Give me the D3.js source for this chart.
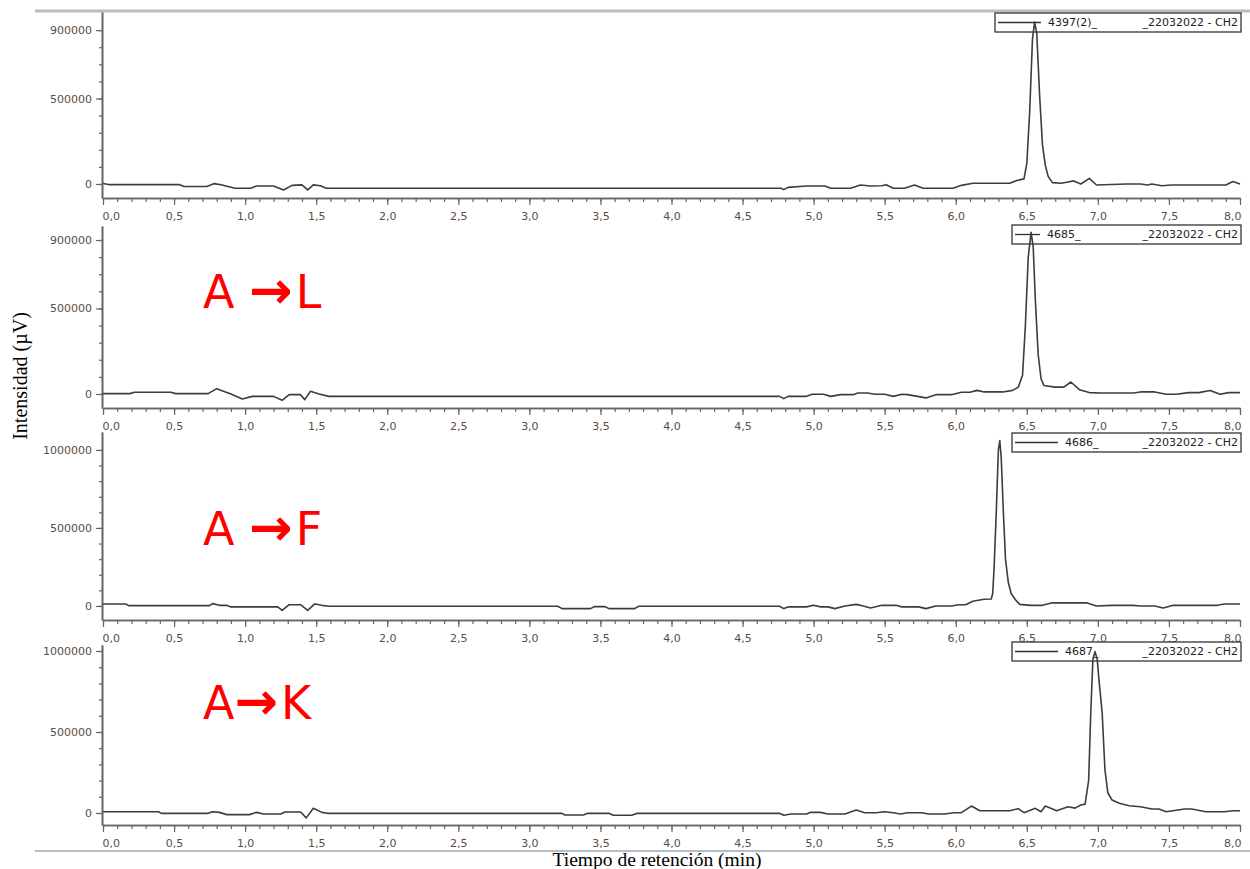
<!DOCTYPE html>
<html>
<head>
<meta charset="utf-8">
<script src="https://cdn.jsdelivr.net/npm/d3@7"></script>
<style>
body { margin: 0; background: #fff; }
svg { display: block; }
</style>
</head>
<body>
<div id="chart-area"></div>
<script>
// sample names / reaction labels
const sampleNames = ['4397(2)_', '4685_', '4686_', '4687_'];
const runName = '_22032022 - CH2';
const reactionLabels = ['', 'A \u2192L', 'A \u2192F', 'A\u2192K'];

// axis ticks
const xTickValues = [0, 0.5, 1, 1.5, 2, 2.5, 3, 3.5, 4, 4.5, 5, 5.5, 6, 6.5, 7, 7.5, 8];
const xTickLabels = ['0,0', '0,5', '1,0', '1,5', '2,0', '2,5', '3,0', '3,5', '4,0', '4,5', '5,0', '5,5', '6,0', '6,5', '7,0', '7,5', '8,0'];
const yTickValues = [[0, 500000, 900000], [0, 500000, 900000], [0, 500000, 1000000], [0, 500000, 1000000]];
const yMin = [-82000, -82000, -90000, -74000];
const yMax = [1006000, 982000, 1115000, 1037000];

// chromatograms (min, µV)
const timeA = [0, 0.05, 0.54, 0.57, 0.73, 0.78, 0.83, 0.88, 0.93, 1.04, 1.08, 1.2, 1.27, 1.33, 1.4, 1.44, 1.48, 1.53, 1.57,
  4.77, 4.79, 4.82, 4.95, 5.08, 5.12, 5.26, 5.33, 5.4, 5.48, 5.51, 5.56, 5.64, 5.71, 5.77, 5.98, 6.04, 6.12, 6.38, 6.43, 6.48,
  6.5, 6.52, 6.54, 6.555, 6.57, 6.59, 6.61, 6.63, 6.65, 6.68, 6.74, 6.79, 6.83, 6.88, 6.94, 6.99, 7.2, 7.3, 7.35, 7.38, 7.45,
  7.52, 7.9, 7.95, 8.0];
const signalA = [3000, -4000, -4000, -15000, -15000, 2000, -5000, -15000, -25000, -25000, -12000, -12000, -35000, -8000, -5000, -35000, -5000, -10000, -25000,
  -25000, -33000, -20000, -12000, -12000, -25000, -25000, -6000, -12000, -10000, -4000, -25000, -25000, -6000, -25000, -25000, -8000, 4000, 4000, 20000, 30000,
  120000, 420000, 850000, 947000, 880000, 520000, 230000, 110000, 45000, 8000, 4000, 12000, 18000, 0, 33000, -6000, 0, 0, -6000, 0, -10000,
  -6000, -6000, 14000, 0];

const timeB = [0, 0.19, 0.22, 0.48, 0.51, 0.74, 0.8, 0.9, 0.98, 1.05, 1.2, 1.26, 1.31, 1.39, 1.42, 1.46, 1.52, 1.59,
  4.76, 4.79, 4.82, 4.95, 4.99, 5.07, 5.12, 5.19, 5.28, 5.31, 5.38, 5.43, 5.5, 5.56, 5.62, 5.66, 5.79, 5.86, 5.97, 6.04, 6.1,
  6.15, 6.2, 6.33, 6.4, 6.44, 6.47, 6.49, 6.51, 6.53, 6.545, 6.56, 6.58, 6.6, 6.62, 6.7, 6.76, 6.81, 6.87, 6.94, 7.02, 7.25,
  7.3, 7.4, 7.48, 7.55, 7.64, 7.71, 7.79, 7.86, 7.92, 8.0];
const signalB = [2000, 2000, 10000, 10000, 2000, 2000, 31000, 0, -29000, -14000, -14000, -37000, -4000, -4000, -33000, 16000, 0, -14000,
  -14000, -27000, -14000, -14000, -2000, -2000, -14000, -4000, -4000, 6000, 6000, -2000, -2000, -14000, -2000, -4000, -23000, -4000, -4000, 10000, 10000,
  21000, 12000, 12000, 21000, 40000, 110000, 400000, 800000, 945000, 860000, 550000, 230000, 90000, 50000, 40000, 40000, 70000, 25000, 8000, 6000, 6000,
  12000, 12000, -2000, -2000, 8000, 8000, 20000, -2000, 8000, 8000];

const timeC = [0, 0.16, 0.18, 0.75, 0.77, 0.82, 0.87, 0.9, 1.23, 1.26, 1.31, 1.39, 1.44, 1.49, 1.54, 1.59,
  3.2, 3.23, 3.43, 3.46, 3.53, 3.56, 3.74, 3.77, 4.76, 4.79, 4.82, 4.95, 5.0, 5.05, 5.1, 5.15, 5.22, 5.3, 5.35, 5.4,
  5.48, 5.58, 5.62, 5.74, 5.79, 5.86, 5.97, 6.02, 6.07, 6.12, 6.2, 6.25, 6.26, 6.27, 6.285, 6.3, 6.31, 6.32, 6.335, 6.35,
  6.37, 6.39, 6.42, 6.45, 6.53, 6.61, 6.68, 6.92, 6.99, 7.1, 7.25, 7.3, 7.4, 7.46, 7.53, 7.84, 7.89, 8.0];
const signalC = [13000, 13000, 2000, 2000, 15000, 4000, 4000, -6000, -6000, -28000, 8000, 8000, -28000, 13000, 4000, -2000,
  -2000, -17000, -17000, -4000, -4000, -17000, -17000, -2000, -2000, -17000, -6000, -6000, 4000, -6000, -6000, -17000, 0, 10000, 0, -13000,
  4000, 4000, -6000, -6000, -17000, 0, 0, 8000, 8000, 30000, 43000, 45000, 80000, 250000, 600000, 1000000, 1060000, 950000, 600000, 300000,
  150000, 80000, 40000, 10000, 4000, 4000, 20000, 20000, 0, 4000, 4000, 0, 0, -13000, 4000, 4000, 13000, 13000];

const timeD = [0, 0.39, 0.41, 0.74, 0.77, 0.82, 0.87, 1.03, 1.08, 1.13, 1.25, 1.28, 1.39, 1.43, 1.48, 1.54, 1.58,
  3.23, 3.25, 3.38, 3.41, 3.56, 3.59, 3.72, 3.76, 4.76, 4.79, 4.84, 4.95, 4.98, 5.05, 5.1, 5.22, 5.3, 5.36, 5.44, 5.5,
  5.56, 5.61, 5.66, 5.76, 5.81, 5.92, 5.99, 6.04, 6.11, 6.17, 6.38, 6.44, 6.48, 6.56, 6.6, 6.63, 6.71, 6.79, 6.84, 6.88,
  6.91, 6.935, 6.95, 6.965, 6.98, 6.995, 7.01, 7.03, 7.05, 7.07, 7.1, 7.15, 7.22, 7.3, 7.38, 7.43, 7.48, 7.61, 7.66, 7.76,
  7.89, 7.95, 8.0];
const signalD = [8000, 8000, -2000, -2000, 8000, 4000, -10000, -10000, 4000, -6000, -6000, 6000, 6000, -30000, 29000, 4000, -2000,
  -2000, -12000, -12000, -2000, -2000, -14000, -14000, -2000, -2000, -14000, -6000, -6000, 4000, 4000, -6000, -6000, 18000, 2000, 2000, 8000,
  2000, -6000, 2000, 2000, -6000, -6000, 2000, 2000, 43000, 14000, 14000, 27000, 2000, 29000, 8000, 43000, 14000, 39000, 30000, 49000,
  55000, 200000, 620000, 950000, 996000, 950000, 800000, 620000, 265000, 125000, 80000, 60000, 45000, 39000, 25000, 25000, 8000, 25000, 25000, 8000,
  8000, 14000, 14000];

const traces = [[timeA, signalA], [timeB, signalB], [timeC, signalC], [timeD, signalD]];

// layout
const width = 1250, height = 869;
const plotLeft = 103, plotRight = 1240;
const panelTop = [12, 226, 432, 645];
const panelBottom = [198, 408, 620, 825];
const legendLeft = [995, 1012, 1012, 1012];
const legendTop = [13, 225, 433, 642];
const legendTextX = [1048, 1047, 1065, 1065];
const labelBaseline = [0, 308, 545, 719];

const axisColor = '#666';
const tickTextColor = '#5a4d45';

const svg = d3.select('#chart-area').append('svg')
  .attr('width', width)
  .attr('height', height);

// window frame lines
svg.append('line')
  .attr('x1', 35).attr('x2', 1250).attr('y1', 11).attr('y2', 11)
  .attr('stroke', '#b5bdc6').attr('stroke-width', 3);
svg.append('line')
  .attr('x1', 35).attr('x2', 1250).attr('y1', 851).attr('y2', 851)
  .attr('stroke', '#b5bdc6').attr('stroke-width', 2);

const x = d3.scaleLinear().domain([0, 8]).range([plotLeft, plotRight]);
const xMinor = d3.range(0, 81).map(d => d / 10);

traces.forEach((tr, i) => {
  const y = d3.scaleLinear()
    .domain([yMin[i], yMax[i]])
    .range([panelBottom[i], panelTop[i]]);

  const g = svg.append('g').attr('class', 'panel');

  // x axis, minor then major ticks
  g.append('g')
    .attr('transform', 'translate(0,' + panelBottom[i] + ')')
    .call(d3.axisBottom(x).tickValues(xMinor).tickSize(4).tickSizeOuter(0).tickFormat(''));
  const xa = g.append('g')
    .attr('transform', 'translate(0,' + panelBottom[i] + ')')
    .call(d3.axisBottom(x).tickValues(xTickValues).tickSize(7).tickSizeOuter(0).tickPadding(7)
      .tickFormat(d => xTickLabels[xTickValues.indexOf(d)]));
  xa.selectAll('text').filter(d => d === 0).attr('text-anchor', 'start').attr('x', -1);
  xa.selectAll('text').filter(d => d === 8).attr('text-anchor', 'end').attr('x', 1);

  // y axis
  const topTick = d3.max(yTickValues[i]);
  g.append('g')
    .attr('transform', 'translate(' + (plotLeft - 1) + ',0)')
    .call(d3.axisLeft(y).tickValues(d3.range(0, topTick + 1, 100000)).tickSize(3).tickSizeOuter(0).tickFormat(''));
  g.append('g')
    .attr('transform', 'translate(' + (plotLeft - 1) + ',0)')
    .call(d3.axisLeft(y).tickValues(yTickValues[i]).tickSize(6).tickSizeOuter(0).tickPadding(4)
      .tickFormat(d3.format('d')));

  g.selectAll('.domain').attr('stroke', axisColor).attr('stroke-width', 1.6);
  g.selectAll('.tick line').attr('stroke', axisColor).attr('stroke-width', 1.2);
  g.selectAll('.tick text')
    .attr('fill', tickTextColor)
    .attr('font-family', 'DejaVu Sans')
    .attr('font-size', '11px');

  // legend box
  const boxH = 19;
  g.append('rect')
    .attr('x', legendLeft[i]).attr('y', legendTop[i])
    .attr('width', 1241 - legendLeft[i]).attr('height', boxH)
    .attr('fill', '#fff').attr('stroke', '#333').attr('stroke-width', 1.3);
  const cy = legendTop[i] + boxH / 2;
  g.append('line')
    .attr('x1', legendLeft[i] + 3).attr('x2', legendTextX[i] - 7)
    .attr('y1', cy).attr('y2', cy)
    .attr('stroke', '#333').attr('stroke-width', 1.3);
  g.append('text')
    .attr('x', legendTextX[i]).attr('y', cy).attr('dy', '0.36em')
    .attr('font-family', 'DejaVu Sans').attr('font-size', '11px').attr('fill', '#222')
    .text(sampleNames[i]);
  g.append('text')
    .attr('x', 1238).attr('y', cy).attr('dy', '0.36em')
    .attr('text-anchor', 'end')
    .attr('font-family', 'DejaVu Sans').attr('font-size', '11px').attr('fill', '#222')
    .text(runName);

  // trace
  g.append('clipPath').attr('id', 'clip' + i)
    .append('rect')
      .attr('x', plotLeft).attr('y', panelTop[i])
      .attr('width', plotRight - plotLeft + 1).attr('height', panelBottom[i] - panelTop[i]);
  const line = d3.line().x(d => x(d[0])).y(d => y(d[1]));
  g.append('path')
    .datum(d3.zip(tr[0], tr[1]))
    .attr('clip-path', 'url(#clip' + i + ')')
    .attr('d', line)
    .attr('fill', 'none')
    .attr('stroke', '#3d3d3d')
    .attr('stroke-width', 1.6)
    .attr('stroke-linejoin', 'round');

  // reaction label, arrow drawn a bit heavier
  if (reactionLabels[i]) {
    const parts = reactionLabels[i].split('\u2192');
    const t = g.append('text')
      .attr('x', 203).attr('y', labelBaseline[i])
      .attr('font-family', 'DejaVu Sans').attr('font-size', '46px')
      .attr('fill', '#ff0000');
    t.append('tspan').text(parts[0]);
    t.append('tspan')
      .attr('font-weight', 'bold').attr('font-size', '52px')
      .text('\u2192');
    t.append('tspan').attr('dx', 3).text(parts[1]);
  }
});

// y label
svg.append('text')
  .attr('transform', 'rotate(-90)')
  .attr('x', -376).attr('y', 27)
  .attr('text-anchor', 'middle')
  .attr('font-family', 'Liberation Serif').attr('font-size', '20px')
  .attr('fill', '#000')
  .text('Intensidad (\u00b5V)');

// x label
svg.append('text')
  .attr('x', 657).attr('y', 866)
  .attr('text-anchor', 'middle')
  .attr('font-family', 'Liberation Serif').attr('font-size', '19.5px')
  .attr('fill', '#000')
  .text('Tiempo de retención (min)');
</script>
</body>
</html>
